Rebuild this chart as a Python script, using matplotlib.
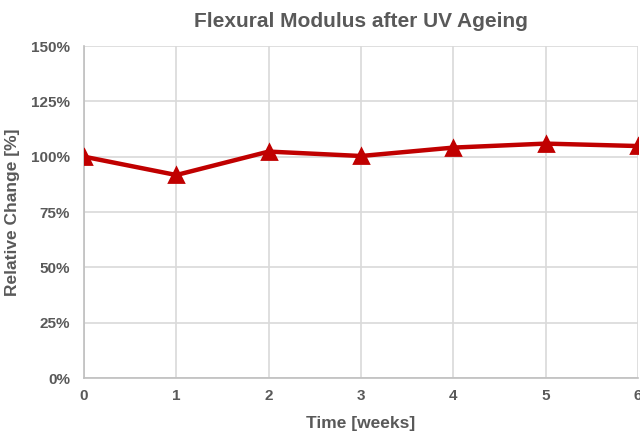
import matplotlib
matplotlib.use("Agg")
import matplotlib.pyplot as plt
from matplotlib.ticker import PercentFormatter

weeks = [0, 1, 2, 3, 4, 5, 6]
relative_change = [100, 91.7, 102.3, 100.3, 104.1, 105.9, 104.8]
y_ticks = [0, 25, 50, 75, 100, 125, 150]

plt.rcParams['font.family'] = ['Liberation Sans', 'DejaVu Sans']
gray = '#595959'
grid = '#d9d9d9'

fig = plt.figure(figsize=(6.4, 4.37), dpi=100)
ax = fig.add_axes([84/640, 1-378/437, (638-84)/640, (378-46)/437])

ax.plot(weeks, relative_change, color='#C00000', lw=3.2, marker='^', ms=10.5,
        mew=2, solid_joinstyle='round', solid_capstyle='round', zorder=3)

ax.set_xlim(0, 6)
ax.set_ylim(0, 150)
ax.set_xticks(weeks)
ax.set_yticks(y_ticks)
ax.yaxis.set_major_formatter(PercentFormatter(decimals=0))
ax.grid(True, color=grid, lw=1.2)
ax.set_axisbelow(True)
for s in ['top', 'right']:
    ax.spines[s].set_visible(False)
for s in ['left', 'bottom']:
    ax.spines[s].set_color('#bfbfbf')
    ax.spines[s].set_linewidth(1.2)
ax.tick_params(length=0, labelsize=11, labelcolor=gray)
ax.tick_params(axis='y', pad=10)
ax.tick_params(axis='x', pad=8)
for lab in ax.get_xticklabels() + ax.get_yticklabels():
    lab.set_fontweight('bold')

ax.set_title('Flexural Modulus after UV Ageing', fontsize=15, fontweight='bold',
             color=gray, pad=14)
ax.set_xlabel('Time [weeks]', fontsize=12.5, fontweight='bold', color=gray, labelpad=9)
ax.set_ylabel('Relative Change [%]', fontsize=12.5, fontweight='bold', color=gray, labelpad=8)

fig.savefig('out.png', dpi=100)
